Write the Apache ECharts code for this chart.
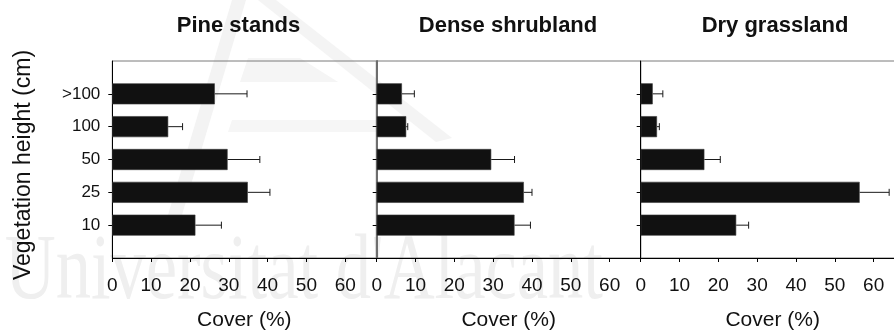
<!DOCTYPE html>
<html>
<head>
<meta charset="utf-8">
<script src="https://cdn.jsdelivr.net/npm/echarts@6/dist/echarts.min.js"></script>
<style>
  html, body { margin: 0; padding: 0; background: #ffffff; }
  #chart { width: 894px; height: 331px; }
</style>
</head>
<body>
<div id="chart"></div>
<script>
// Vegetation height classes (bottom to top) and cover per habitat (mean and SE, %)
const heights = ['10', '25', '50', '100', '>100'];
const panelTitles = ['Pine stands', 'Dense shrubland', 'Dry grassland'];
const pineCover = [21.4, 34.9, 29.7, 14.4, 26.4];
const pineSE = [6.7, 5.7, 8.3, 3.7, 8.3];
const shrubCover = [35.5, 37.9, 29.5, 7.6, 6.5];
const shrubSE = [4.1, 2.1, 6.0, 0.4, 3.2];
const grassCover = [24.6, 56.4, 16.4, 4.2, 3.1];
const grassSE = [3.2, 7.6, 4.1, 0.6, 2.6];
const coverTicks = [0, 10, 20, 30, 40, 50, 60];
const coverName = 'Cover (%)';
const heightName = 'Vegetation height (cm)';
const watermark = "Universitat d'Alacant";

const FONT = '"Liberation Sans", Arial, Helvetica, sans-serif';
const panels = [
  { cover: pineCover, se: pineSE, left: 112.3, axisColor: '#000', axisWidth: 1 },
  { cover: shrubCover, se: shrubSE, left: 376.7, axisColor: '#6e6e6e', axisWidth: 2 },
  { cover: grassCover, se: grassSE, left: 640.7, axisColor: '#000', axisWidth: 1 }
];
const PANEL_W = 264;
const yCats = [''].concat(heights, ['']);

const grids = [], xAxes = [], yAxes = [], series = [];
panels.forEach((p, k) => {
  grids.push({
    left: p.left, top: 61, width: PANEL_W, height: 197,
    outerBoundsMode: 'none', containLabel: false,
    show: true, borderColor: '#7a7a7a', borderWidth: 1, backgroundColor: 'transparent'
  });
  xAxes.push({
    gridIndex: k, type: 'value', min: 0, max: 68,
    name: coverName, nameLocation: 'middle', nameGap: 52,
    nameTextStyle: { fontFamily: FONT, fontSize: 21, color: '#111' },
    splitLine: { show: false },
    axisLine: { show: true, lineStyle: { color: '#000', width: 1 } },
    axisTick: { show: true, length: 4, inside: false, customValues: coverTicks, lineStyle: { color: '#000' } },
    axisLabel: { customValues: coverTicks, margin: 18, fontFamily: FONT, fontSize: 19, color: '#111' }
  });
  yAxes.push({
    gridIndex: k, type: 'category', data: yCats, boundaryGap: false,
    axisLine: { show: true, onZero: false, lineStyle: { color: p.axisColor, width: p.axisWidth } },
    axisTick: { show: true, length: 4, inside: false, interval: (i, v) => v !== '', lineStyle: { color: '#000' } },
    axisLabel: { show: k === 0, interval: 0, margin: 12, fontFamily: FONT, fontSize: 17, color: '#111' },
    splitLine: { show: false }
  });
  series.push({
    type: 'bar', xAxisIndex: k, yAxisIndex: k,
    barWidth: 21,
    itemStyle: { color: '#111111', borderColor: '#3a3a3a', borderWidth: 0.6 },
    encode: { x: 0, y: 1 },
    data: p.cover.map((v, i) => [v, i + 1]),
    z: 3
  });
  series.push({
    type: 'custom', xAxisIndex: k, yAxisIndex: k,
    encode: { x: [1, 2], y: 0 },
    data: p.cover.map((v, i) => [i + 1, v, v + p.se[i]]),
    renderItem: function (params, api) {
      const c = api.value(0);
      const a = api.coord([api.value(1), c]);
      const b = api.coord([api.value(2), c]);
      const style = { stroke: '#1a1a1a', lineWidth: 1 };
      return {
        type: 'group',
        children: [
          { type: 'line', shape: { x1: a[0], y1: a[1], x2: b[0], y2: b[1] }, style: style },
          { type: 'line', shape: { x1: b[0], y1: b[1] - 3.5, x2: b[0], y2: b[1] + 3.5 }, style: style }
        ]
      };
    },
    z: 4
  });
});

const titleX = [238.5, 508, 775];
const graphics = [
  // faint emblem and institution name behind the plots
  { type: 'polygon', z: -10, silent: true, shape: { points: [[232, 0], [246, 0], [176, 235], [162, 235]] }, style: { fill: '#f3f3f3' } },
  { type: 'polygon', z: -10, silent: true, shape: { points: [[258, 0], [276, 0], [452, 138], [436, 142]] }, style: { fill: '#f4f4f4' } },
  { type: 'polygon', z: -10, silent: true, shape: { points: [[248, 58], [300, 58], [338, 82], [240, 82]] }, style: { fill: '#f5f5f5' } },
  { type: 'polygon', z: -10, silent: true, shape: { points: [[232, 120], [380, 120], [395, 132], [228, 132]] }, style: { fill: '#f6f6f6' } },
  {
    type: 'text', z: -10, silent: true, x: 4, y: 348, scaleX: 0.82, scaleY: 1.08, originX: 4, originY: 348,
    style: { text: watermark, fontFamily: '"Liberation Serif", "Times New Roman", serif', fontSize: 86, fill: '#efefef', textAlign: 'left', textVerticalAlign: 'bottom' }
  },
  {
    type: 'text', x: 24, y: 165, rotation: Math.PI / 2,
    style: { text: heightName, fontFamily: FONT, fontSize: 23, fill: '#111', textAlign: 'center', textVerticalAlign: 'middle' }
  }
];
panelTitles.forEach((t, k) => {
  graphics.push({
    type: 'text', x: titleX[k], y: 26,
    style: { text: t, fontFamily: FONT, fontSize: 22, fontWeight: 'bold', fill: '#111', textAlign: 'center', textVerticalAlign: 'middle' }
  });
});

const chart = echarts.init(document.getElementById('chart'), null, { renderer: 'canvas' });
chart.setOption({
  animation: false,
  backgroundColor: '#ffffff',
  grid: grids,
  xAxis: xAxes,
  yAxis: yAxes,
  series: series,
  graphic: graphics
});
</script>
</body>
</html>
